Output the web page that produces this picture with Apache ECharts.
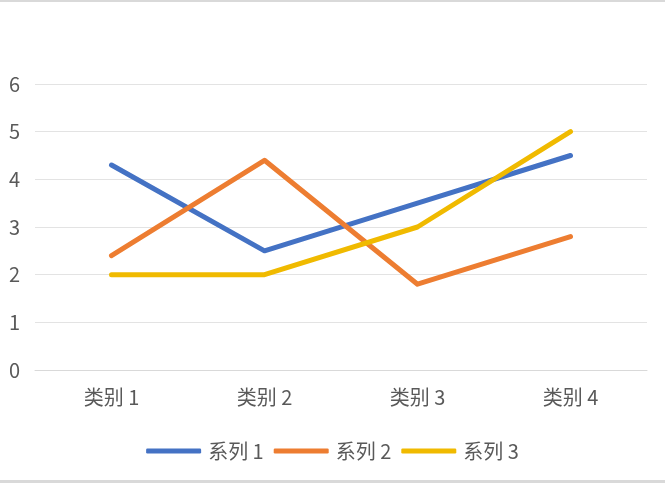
<!DOCTYPE html>
<html>
<head>
<meta charset="utf-8">
<script src="https://cdn.jsdelivr.net/npm/echarts@6/dist/echarts.min.js"></script>
<style>
  html, body { margin: 0; padding: 0; background: #fff; }
  #chart { width: 665px; height: 488px; }
</style>
</head>
<body>
<div id="chart"></div>
<script>
// Categories and series values
const categories = ['类别 1', '类别 2', '类别 3', '类别 4'];
const seriesNames = ['系列 1', '系列 2', '系列 3'];
const series1 = [4.3, 2.5, 3.5, 4.5];
const series2 = [2.4, 4.4, 1.8, 2.8];
const series3 = [2, 2, 3, 5];
const yTicks = [0, 1, 2, 3, 4, 5, 6];

const colors = ['#4472C4', '#ED7D31', '#F0BA00'];
const font = '"Noto Sans CJK SC", "Microsoft YaHei", sans-serif';

const chart = echarts.init(document.getElementById('chart'), null, { renderer: 'canvas' });

function lineSeries(name, data, i) {
  return {
    name: name,
    type: 'line',
    data: data,
    symbol: 'none',
    showSymbol: false,
    lineStyle: { width: 5, color: colors[i], cap: 'round', join: 'round' },
    itemStyle: { color: colors[i] }
  };
}

chart.setOption({
  animation: false,
  color: colors,
  textStyle: { fontFamily: font },
  grid: { left: 35, right: 18, top: 84, bottom: 118, containLabel: false },
  graphic: [
    { type: 'rect', shape: { x: 0, y: 0, width: 665, height: 2 }, style: { fill: '#d9d9d9' }, silent: true },
    { type: 'rect', shape: { x: 0, y: 480, width: 665, height: 3 }, style: { fill: '#d9d9d9' }, silent: true }
  ],
  xAxis: {
    type: 'category',
    data: categories,
    boundaryGap: true,
    axisLine: { show: true, lineStyle: { color: '#d9d9d9', width: 1 } },
    axisTick: { show: false },
    axisLabel: { color: '#595959', fontSize: 20, margin: 17, fontFamily: font }
  },
  yAxis: {
    type: 'value',
    min: yTicks[0],
    max: yTicks[yTicks.length - 1],
    interval: 1,
    axisLine: { show: false },
    axisTick: { show: false },
    splitLine: { lineStyle: { color: '#e3e3e3', width: 1 } },
    axisLabel: { color: '#595959', fontSize: 20, margin: 15, fontFamily: font }
  },
  legend: {
    data: seriesNames,
    bottom: 22,
    left: 'center',
    icon: 'roundRect',
    itemWidth: 55,
    itemHeight: 5,
    itemGap: 10,
    textStyle: { color: '#595959', fontSize: 20, fontFamily: font, padding: [0, 0, 0, 2] }
  },
  series: [
    lineSeries(seriesNames[0], series1, 0),
    lineSeries(seriesNames[1], series2, 1),
    lineSeries(seriesNames[2], series3, 2)
  ]
});
</script>
</body>
</html>
